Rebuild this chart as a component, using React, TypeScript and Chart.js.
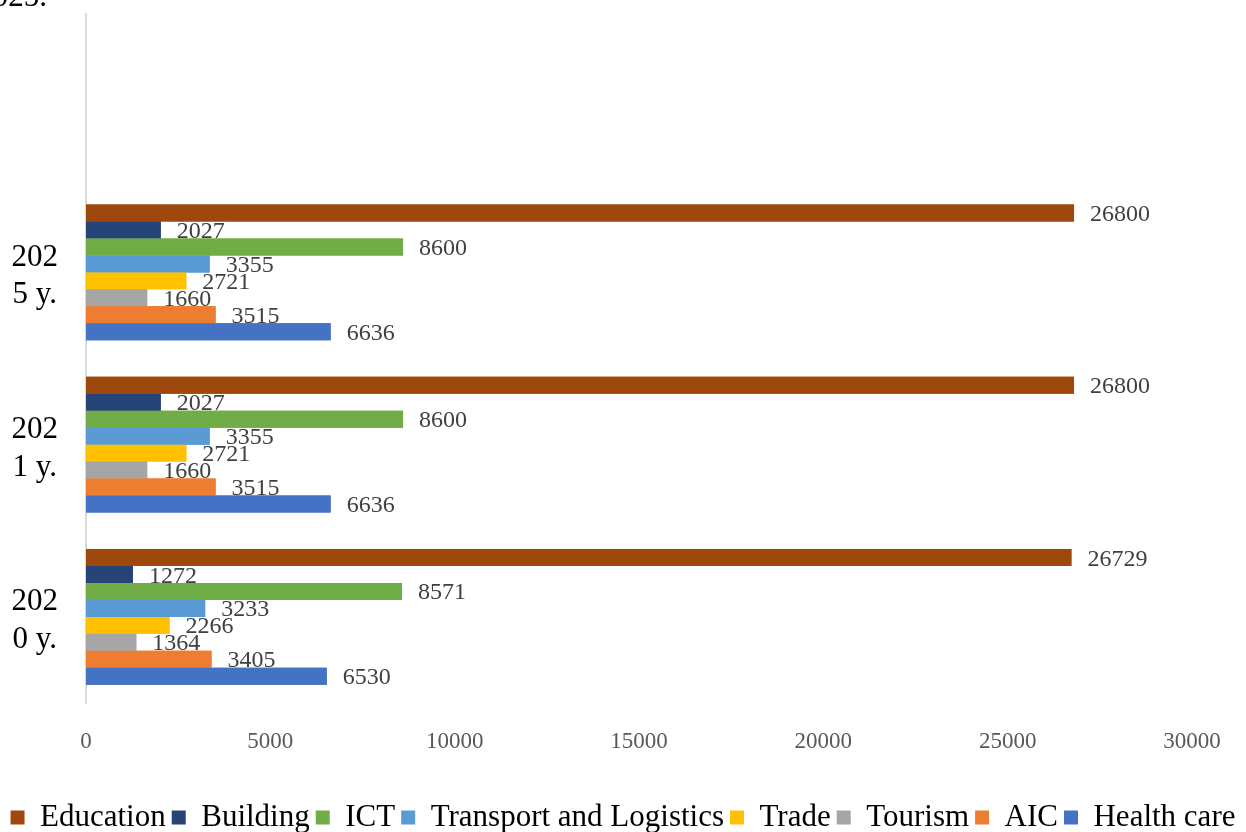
import React, { useEffect, useRef } from "react";
import { Chart, registerables } from "chart.js";

Chart.register(...registerables);

const categories = ["", "2025 y.", "2021 y.", "2020 y."];
const seriesNames = ["Education", "Building", "ICT", "Transport and Logistics", "Trade", "Tourism", "AIC", "Health care"];
const education = [null, 26800, 26800, 26729];
const building = [null, 2027, 2027, 1272];
const ict = [null, 8600, 8600, 8571];
const transport = [null, 3355, 3355, 3233];
const trade = [null, 2721, 2721, 2266];
const tourism = [null, 1660, 1660, 1364];
const aic = [null, 3515, 3515, 3405];
const health = [null, 6636, 6636, 6530];
const seriesColors = ["#9E480E", "#264478", "#70AD47", "#5B9BD5", "#FFC000", "#A5A5A5", "#ED7D31", "#4472C4"];
const xTickMin = 0;
const xTickMax = 30000;
const xTickStep = 5000;

const FONT = "'Liberation Serif', 'Times New Roman', serif";

const labelPlugin = {
  id: "valueLabels",
  afterDatasetsDraw(chart: any) {
    const ctx = chart.ctx;
    ctx.save();
    chart.data.datasets.forEach((ds: any, i: number) => {
      const meta = chart.getDatasetMeta(i);
      meta.data.forEach((el: any, j: number) => {
        if (ds.data[j] == null) return;
        el.draw(ctx);
      });
      ctx.font = `24px ${FONT}`;
      ctx.fillStyle = "#404040";
      ctx.textAlign = "left";
      ctx.textBaseline = "alphabetic";
      meta.data.forEach((el: any, j: number) => {
        const v = ds.data[j];
        if (v == null) return;
        ctx.fillText(String(v), el.x + 16, el.y + 8);
      });
    });
    ctx.restore();
  },
  afterDraw(chart: any) {
    const ctx = chart.ctx;
    ctx.save();
    ctx.font = `31px ${FONT}`;
    ctx.fillStyle = "#000";
    ctx.textAlign = "right";
    ctx.textBaseline = "alphabetic";
    ctx.fillText("2025.", 47, 6);
    ctx.restore();
  },
};

export default function App() {
  const ref = useRef<HTMLCanvasElement | null>(null);
  useEffect(() => {
    if (!ref.current) return;
    const seriesData = [education, building, ict, transport, trade, tourism, aic, health];
    const chart = new Chart(ref.current, {
      type: "bar",
      data: {
        labels: categories,
        datasets: seriesNames.map((name, i) => ({
          label: name,
          data: seriesData[i] as any,
          backgroundColor: seriesColors[i],
          borderWidth: 0,
          categoryPercentage: 0.787,
          barPercentage: 1,
        })),
      },
      options: {
        indexAxis: "y",
        animation: false,
        responsive: false,
        layout: { padding: { top: 14, right: 0, left: 0, bottom: -11 } },
        plugins: {
          tooltip: { enabled: false },
          legend: {
            position: "bottom",
            align: "center",
            labels: {
              boxWidth: 14,
              boxHeight: 14,
              padding: 6,
              color: "#000",
              font: { family: FONT, size: 31 },
            },
          },
        },
        scales: {
          x: {
            min: xTickMin,
            max: xTickMax,
            grid: { display: false },
            border: { display: false },
            ticks: {
              stepSize: xTickStep,
              color: "#595959",
              padding: 17,
              font: { family: FONT, size: 23 },
              callback: (v: any) => String(v),
            },
            afterFit: (scale: any) => {
              scale.height = 93;
            },
          },
          y: {
            grid: { display: false },
            border: { display: true, color: "#d9d9d9", width: 2 },
            ticks: {
              color: "#000",
              crossAlign: "center",
              padding: 20,
              labelOffset: 4,
              font: { family: FONT, size: 31, lineHeight: 1.22 },
              callback: (_v: any, i: number) => {
                const s = categories[i];
                return s ? [s.slice(0, 3), s.slice(3)] : "";
              },
            },
            afterFit: (scale: any) => {
              scale.width = 86;
              scale.paddingTop = 0;
              scale.paddingBottom = 0;
            },
          },
          yRightSpace: {
            type: "category",
            position: "right",
            labels: categories,
            grid: { display: false },
            border: { display: false },
            ticks: { display: false },
            afterFit: (scale: any) => {
              scale.width = 54;
              scale.paddingTop = 0;
              scale.paddingBottom = 0;
            },
          },
        },
      },
      plugins: [labelPlugin],
    });
    return () => chart.destroy();
  }, []);
  return (
    <div style={{ position: "absolute", left: 0, top: 0, width: 1246, height: 832, background: "#fff" }}>
      <canvas ref={ref} width={1246} height={832} />
    </div>
  );
}
